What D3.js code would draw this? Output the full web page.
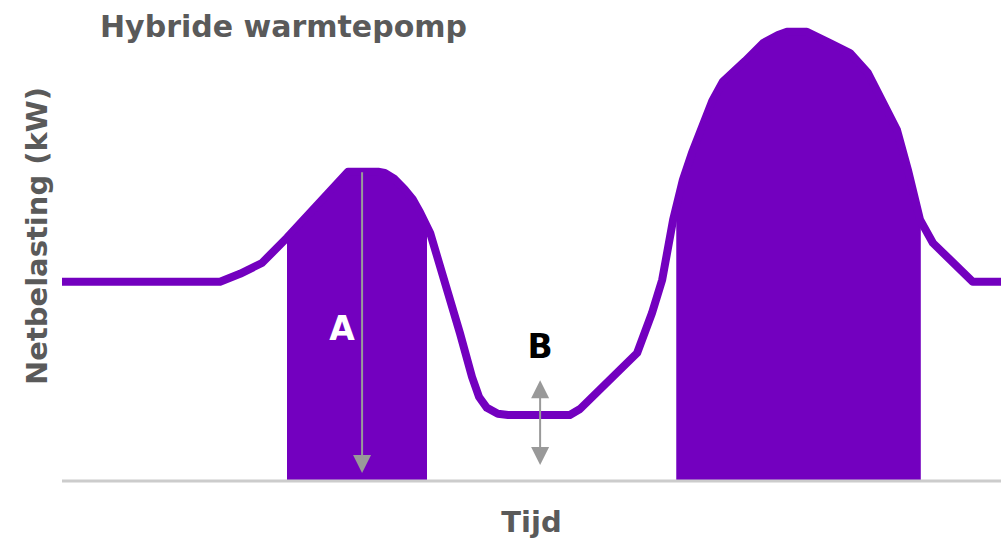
<!DOCTYPE html>
<meta charset="utf-8">
<script src="https://d3js.org/d3.v7.min.js"></script>
<style>
  body { margin: 0; background: #fff; }
  text { font-family: "DejaVu Sans", sans-serif; font-weight: bold; }
</style>
<div id="chart"></div>
<script>

// time of day (hours) and grid load (kW)
var hours = [0, 4.04, 4.55, 5.11, 5.75, 7.31, 8.08, 8.25, 8.5, 8.75, 8.96, 9.15, 9.41, 10.17,
             10.48, 10.66, 10.86, 11.14, 11.4, 12.98, 13.24, 14.7, 15.08, 15.34,
             15.62, 15.87, 16.1, 16.36, 16.62, 16.89, 17.46, 17.92, 18.3, 18.53, 19.04, 19.63,
             20.14, 20.6, 21.34, 21.62, 21.93, 22.26, 23.28, 24];
var load  = [4.98, 4.98, 5.18, 5.45, 6.08, 7.73, 7.73, 7.7, 7.55, 7.3, 7.05, 6.72, 6.2, 3.7,
             2.6, 2.1, 1.83, 1.68, 1.65, 1.65, 1.8, 3.2, 4.2, 5.03,
             6.53, 7.53, 8.2, 8.85, 9.5, 9.98, 10.5, 10.95, 11.15, 11.23, 11.23, 10.95,
             10.7, 10.2, 8.78, 7.78, 6.53, 5.95, 4.98, 4.98];

// shaded periods (hours)
var shadeStart = [5.75, 15.7];
var shadeEnd   = [9.33, 21.95];

// annotation arrows
var arrowLabels = ["A", "B"];
var arrowHour   = [7.67, 12.22];
var arrowFrom   = [7.72, 2.52];
var arrowTo     = [0.2, 0.4];
var arrowBoth   = [false, true];
var labelHour   = [7.16, 12.22];
var labelLoad   = [3.52, 3.08];
var labelColor  = ["#fff", "#000"];

var W = 1001, H = 540;
var purple = "#7300bf", grey = "#5a5a5a";

var svg = d3.select("#chart").append("svg")
    .attr("width", W).attr("height", H);

var x = d3.scaleLinear().domain([0, 24]).range([62, 1001]);
var y = d3.scaleLinear().domain([0, 12]).range([481, 1]);

var data = hours.map(function(h, i) { return {h: h, v: load[i]}; });

var defs = svg.append("defs");
shadeStart.forEach(function(s, i) {
  defs.append("clipPath").attr("id", "shade" + i)
    .append("rect")
      .attr("x", x(s)).attr("y", 0)
      .attr("width", x(shadeEnd[i]) - x(s)).attr("height", y(0));
});

var area = d3.area()
    .x(function(d) { return x(d.h); })
    .y0(y(0))
    .y1(function(d) { return y(d.v); });

shadeStart.forEach(function(s, i) {
  svg.append("path")
    .datum(data)
    .attr("clip-path", "url(#shade" + i + ")")
    .attr("d", area)
    .attr("fill", purple);
});

// baseline
svg.append("line")
    .attr("x1", x(0)).attr("x2", x(24))
    .attr("y1", y(0)).attr("y2", y(0))
    .attr("stroke", "#cccccc").attr("stroke-width", 3);

var line = d3.line()
    .x(function(d) { return x(d.h); })
    .y(function(d) { return y(d.v); });

svg.append("path")
    .datum(data)
    .attr("d", line)
    .attr("fill", "none")
    .attr("stroke", purple)
    .attr("stroke-width", 8)
    .attr("stroke-linejoin", "round");

// arrows
function head(cx, tipY, dir) {
  // dir 1 = pointing down, -1 = pointing up
  var hw = 9, hh = 18;
  return "M" + cx + "," + tipY + "L" + (cx - hw) + "," + (tipY - dir * hh) +
         "L" + (cx + hw) + "," + (tipY - dir * hh) + "Z";
}

arrowLabels.forEach(function(lab, i) {
  var ax = x(arrowHour[i]);
  var y1 = y(arrowFrom[i]), y2 = y(arrowTo[i]);
  svg.append("line")
    .attr("x1", ax).attr("x2", ax)
    .attr("y1", arrowBoth[i] ? y1 + 10 : y1).attr("y2", y2 - 10)
    .attr("stroke", "#999").attr("stroke-width", 2);
  svg.append("path").attr("d", head(ax, y2, 1)).attr("fill", "#999");
  if (arrowBoth[i]) svg.append("path").attr("d", head(ax, y1, -1)).attr("fill", "#999");

  svg.append("text")
    .attr("x", x(labelHour[i])).attr("y", y(labelLoad[i]))
    .attr("text-anchor", "middle")
    .attr("font-size", 33)
    .attr("fill", labelColor[i])
    .text(lab);
});

// titles
svg.append("text")
    .attr("x", 100).attr("y", 37)
    .attr("font-size", 30)
    .attr("fill", grey)
    .text("Hybride warmtepomp");

svg.append("text")
    .attr("transform", "translate(47,236) rotate(-90)")
    .attr("text-anchor", "middle")
    .attr("font-size", 29)
    .attr("fill", grey)
    .text("Netbelasting (kW)");

svg.append("text")
    .attr("x", (x(0) + x(24)) / 2).attr("y", 532)
    .attr("text-anchor", "middle")
    .attr("font-size", 29)
    .attr("fill", grey)
    .text("Tijd");
</script>
